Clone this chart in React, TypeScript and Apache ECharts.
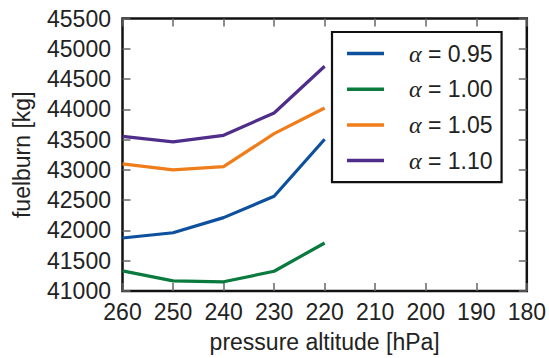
import React, { useEffect, useRef } from "react";
import * as echarts from "echarts";

const pressures = [260, 250, 240, 230, 220];
const alpha095 = [41875, 41962, 42212, 42565, 43505];
const alpha100 = [41332, 41168, 41152, 41326, 41793];
const alpha105 = [43098, 43000, 43054, 43598, 44022];
const alpha110 = [43554, 43462, 43571, 43940, 44712];
const seriesNames = ["0.95", "1.00", "1.05", "1.10"];
const seriesColors = ["#0c509e", "#0a7a3e", "#ee7d1a", "#4f2d8a"];

const FONT = "Liberation Sans, Arial, sans-serif";
const FS = 23;

export default function App() {
  const ref = useRef<HTMLDivElement>(null);
  useEffect(() => {
    if (!ref.current) return;
    const chart = echarts.init(ref.current, null, { renderer: "svg" });
    const values = [alpha095, alpha100, alpha105, alpha110];
    const tick = { show: true, inside: true, length: 8, lineStyle: { color: "#666", width: 1.5 } };
    chart.setOption({
      animation: false,
      textStyle: { fontFamily: FONT },
      grid: {
        left: 122.5,
        top: 18.5,
        right: 21,
        bottom: 63.5,
        show: true,
        borderColor: "#111",
        borderWidth: 2.5,
        backgroundColor: "transparent",
      },
      legend: {
        show: true,
        left: 332,
        top: 32,
        orient: "vertical",
        backgroundColor: "#fff",
        borderColor: "#111",
        borderWidth: 2.2,
        borderRadius: 0,
        padding: [9.5, 9, 9.5, 15],
        itemGap: 11.7,
        itemWidth: 37,
        itemHeight: 3.5,
        icon: "rect",
        data: seriesNames.map((n) => "α = " + n),
        formatter: (name: string) => "{a|α} = " + name.replace("α = ", ""),
        textStyle: {
          fontFamily: FONT,
          fontSize: FS,
          color: "#222",
          lineHeight: 20,
          padding: [0, 0, 0, 20],
          rich: {
            a: {
              fontFamily: "Liberation Serif, DejaVu Serif, serif",
              fontStyle: "italic",
              fontSize: 24,
              color: "#222",
              lineHeight: 20,
            },
          },
        },
      },
      xAxis: [
        {
          type: "value",
          min: 180,
          max: 260,
          interval: 10,
          inverse: true,
          name: "pressure altitude [hPa]",
          nameLocation: "middle",
          nameGap: 39,
          nameTextStyle: { fontFamily: FONT, fontSize: FS, color: "#222" },
          axisLine: { show: false },
          axisTick: tick,
          splitLine: { show: false },
          axisLabel: { fontFamily: FONT, fontSize: FS, color: "#222", margin: 9, formatter: (v: number) => String(v) },
        },
        {
          type: "value",
          position: "top",
          min: 180,
          max: 260,
          interval: 10,
          inverse: true,
          axisLine: { show: false },
          axisTick: tick,
          splitLine: { show: false },
          axisLabel: { show: false },
        },
      ],
      yAxis: [
        {
          type: "value",
          min: 41000,
          max: 45500,
          interval: 500,
          name: "fuelburn [kg]",
          nameLocation: "middle",
          nameGap: 89,
          nameTextStyle: { fontFamily: FONT, fontSize: FS, color: "#222" },
          axisLine: { show: false },
          axisTick: tick,
          splitLine: { show: false },
          axisLabel: { fontFamily: FONT, fontSize: FS, color: "#222", margin: 11.5, formatter: (v: number) => String(v) },
        },
        {
          type: "value",
          position: "right",
          min: 41000,
          max: 45500,
          interval: 500,
          axisLine: { show: false },
          axisTick: tick,
          splitLine: { show: false },
          axisLabel: { show: false },
        },
      ],
      series: values.map((vals, i) => ({
        type: "line",
        name: "α = " + seriesNames[i],
        data: pressures.map((p, j) => [p, vals[j]]),
        showSymbol: false,
        symbol: "none",
        color: seriesColors[i],
        lineStyle: { color: seriesColors[i], width: 3.2 },
        itemStyle: { color: seriesColors[i] },
        z: 2,
      })),
    });
    return () => chart.dispose();
  }, []);
  return <div ref={ref} style={{ width: 549, height: 358, position: "absolute", left: 0, top: 0 }} />;
}
